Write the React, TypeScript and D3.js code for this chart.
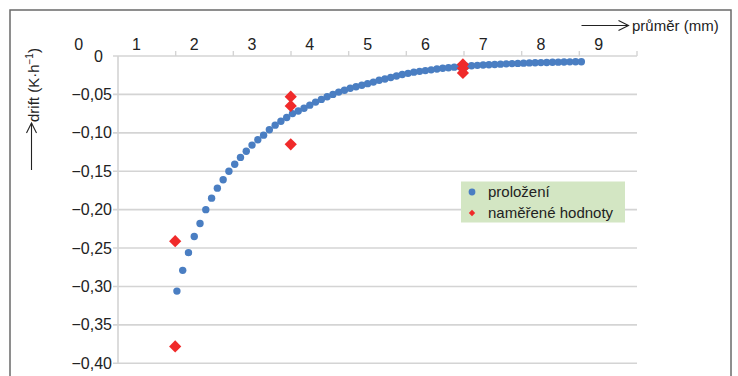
import * as d3 from 'd3';
import { FunctionComponent, useEffect, useRef } from "react";

// fit curve (proložení), diameter in mm and drift in K/h
const fitDiameter = [
    1.7, 1.8, 1.9, 2.0, 2.1, 2.2, 2.3, 2.4, 2.5, 2.6,
    2.7, 2.8, 2.9, 3.0, 3.1, 3.2, 3.3, 3.4, 3.5, 3.6,
    3.7, 3.8, 3.9, 4.0, 4.1, 4.2, 4.3, 4.4, 4.5, 4.6,
    4.7, 4.8, 4.9, 5.0, 5.1, 5.2, 5.3, 5.4, 5.5, 5.6,
    5.7, 5.8, 5.9, 6.0, 6.1, 6.2, 6.3, 6.4, 6.5, 6.6,
    6.7, 6.8, 6.9, 7.0, 7.1, 7.2, 7.3, 7.4, 7.5, 7.6,
    7.7, 7.8, 7.9, 8.0, 8.1, 8.2, 8.3, 8.4, 8.5, 8.6, 8.7
];
const fitDrift = [
    -0.306, -0.279, -0.256, -0.235, -0.218, -0.200, -0.185, -0.172, -0.161, -0.150,
    -0.141, -0.132, -0.124, -0.116, -0.109, -0.103, -0.096, -0.090, -0.085, -0.080,
    -0.075, -0.0715, -0.068, -0.064, -0.060, -0.0565, -0.053, -0.050, -0.047, -0.0445,
    -0.042, -0.040, -0.038, -0.036, -0.034, -0.0315, -0.030, -0.028, -0.026, -0.024,
    -0.0226, -0.021, -0.020, -0.019, -0.018, -0.017, -0.016, -0.0152, -0.0145, -0.014,
    -0.0133, -0.0126, -0.0122, -0.0117, -0.0113, -0.011, -0.0106, -0.0102, -0.0099, -0.0096,
    -0.0093, -0.009, -0.0088, -0.0086, -0.0084, -0.0082, -0.008, -0.0078, -0.0076, -0.0075, -0.0074
];

// measured values (naměřené hodnoty)
const measDiameter = [1.67, 1.67, 3.67, 3.67, 3.67, 6.65, 6.65, 6.65];
const measDrift = [-0.241, -0.378, -0.053, -0.065, -0.115, -0.011, -0.016, -0.022];

const xTickLabels = ['0', '1', '2', '3', '4', '5', '6', '7', '8', '9'];
const yTicks = [0, -0.05, -0.10, -0.15, -0.20, -0.25, -0.30, -0.35, -0.40];
const legendLabels = ['proložení', 'naměřené hodnoty'];

const BLUE = '#4a7ec2';
const RED = '#f02a2a';
const FONT = 'Arial, "Liberation Sans", sans-serif';

export const DriftChart: FunctionComponent = () => {
    const width = 738;
    const height = 376;
    const ref = useRef<SVGSVGElement>(null);

    useEffect(() => {
        const svg = d3.select(ref.current!);
        svg.selectAll('*').remove();

        // label positions define the scale, the plot box starts a bit later
        const x = d3.scaleLinear([0, 9], [78.7, 598.7]);
        const y = d3.scaleLinear([0, -0.40], [56, 363.3]);
        const plotLeft = 118;
        const plotRight = 637;

        // frame
        svg.append('rect')
            .attr('x', 10).attr('y', 10)
            .attr('width', 721).attr('height', 400)
            .attr('fill', 'none')
            .attr('stroke', '#6a6a6a')
            .attr('stroke-width', 1.5);

        // grid
        svg.append('g').selectAll('line')
            .data(yTicks)
            .join('line')
            .attr('x1', plotLeft - 5).attr('x2', plotRight)
            .attr('y1', d => y(d)).attr('y2', d => y(d))
            .attr('stroke', '#d4d4d4')
            .attr('stroke-width', 1.6);

        svg.append('line')
            .attr('x1', plotLeft).attr('x2', plotLeft)
            .attr('y1', y(0)).attr('y2', y(-0.40))
            .attr('stroke', '#d4d4d4')
            .attr('stroke-width', 1.6);

        // top tick marks (offset from labels like in the original)
        const tickOffsets = d3.range(1, 10).map(i => plotLeft + i * (plotRight - plotLeft) / 9);
        svg.append('g').selectAll('line')
            .data(tickOffsets)
            .join('line')
            .attr('x1', d => d).attr('x2', d => d)
            .attr('y1', y(0) - 5).attr('y2', y(0))
            .attr('stroke', '#d4d4d4')
            .attr('stroke-width', 1.4);

        // x labels
        svg.append('g').selectAll('text')
            .data(xTickLabels)
            .join('text')
            .attr('x', d => x(+d))
            .attr('y', 49.5)
            .attr('text-anchor', 'middle')
            .attr('font-family', FONT)
            .attr('font-size', 16)
            .attr('fill', '#222')
            .text(d => d);

        // y labels
        svg.append('g').selectAll('text')
            .data(yTicks)
            .join('text')
            .attr('x', d => d === 0 ? 103 : 112)
            .attr('y', d => y(d) + 5.5)
            .attr('text-anchor', 'end')
            .attr('font-family', FONT)
            .attr('font-size', 16)
            .attr('fill', '#222')
            .text(d => d === 0 ? '0' : '\u2212' + d3.format('.2f')(-d).replace('.', ','));

        // fit curve
        svg.append('g').selectAll('circle')
            .data(fitDiameter.map((d, i) => ({ d, v: fitDrift[i] })))
            .join('circle')
            .attr('cx', p => x(p.d))
            .attr('cy', p => y(p.v))
            .attr('r', 3.7)
            .attr('fill', BLUE);

        // measured
        const diamond = d3.symbol(d3.symbolDiamond2, 95);
        svg.append('g').selectAll('path')
            .data(measDiameter.map((d, i) => ({ d, v: measDrift[i] })))
            .join('path')
            .attr('d', diamond)
            .attr('transform', p => `translate(${x(p.d)},${y(p.v)})`)
            .attr('fill', RED);

        // legend
        const lg = svg.append('g').attr('transform', 'translate(461,181.5)');
        lg.append('rect')
            .attr('width', 164).attr('height', 41)
            .attr('fill', '#d3e6c3');
        lg.append('circle').attr('cx', 11).attr('cy', 10.5).attr('r', 3.4).attr('fill', BLUE);
        lg.append('path')
            .attr('d', d3.symbol(d3.symbolDiamond2, 26))
            .attr('transform', 'translate(11,31.5)')
            .attr('fill', RED);
        lg.selectAll('text')
            .data(legendLabels)
            .join('text')
            .attr('x', 27)
            .attr('y', (_, i) => 15.5 + i * 21)
            .attr('font-family', FONT)
            .attr('font-size', 15)
            .attr('fill', '#222')
            .text(d => d);

        // x title with arrow
        const arrow = (g: d3.Selection<SVGGElement, unknown, null, undefined>) => {
            g.append('line').attr('x1', 0).attr('x2', 47).attr('y1', 0).attr('y2', 0);
            g.append('path').attr('d', 'M37,-5L47,0L37,5').attr('fill', 'none');
            g.attr('stroke', '#222').attr('stroke-width', 1.1);
        };
        svg.append('g').attr('transform', 'translate(581.5,25.5)').call(arrow);
        svg.append('text')
            .attr('x', 632).attr('y', 31)
            .attr('font-family', FONT)
            .attr('font-size', 15)
            .attr('fill', '#222')
            .text('průměr (mm)');

        // y title with arrow
        svg.append('g').attr('transform', 'translate(31.5,170) rotate(-90)').call(arrow);
        const yt = svg.append('text')
            .attr('transform', 'translate(38.5,122) rotate(-90)')
            .attr('font-family', FONT)
            .attr('font-size', 15)
            .attr('fill', '#222');
        yt.append('tspan').text('drift (K·h');
        yt.append('tspan').attr('dy', -6).attr('font-size', 10).text('\u22121');
        yt.append('tspan').attr('dy', 6).text(')');
    }, []);

    return <svg ref={ref} width={width} height={height} viewBox={`0 0 ${width} ${height}`}
        style={{ position: 'absolute', left: 0, top: 0, background: '#fff' }} />
}

export default function App() {
    return <DriftChart />
}
